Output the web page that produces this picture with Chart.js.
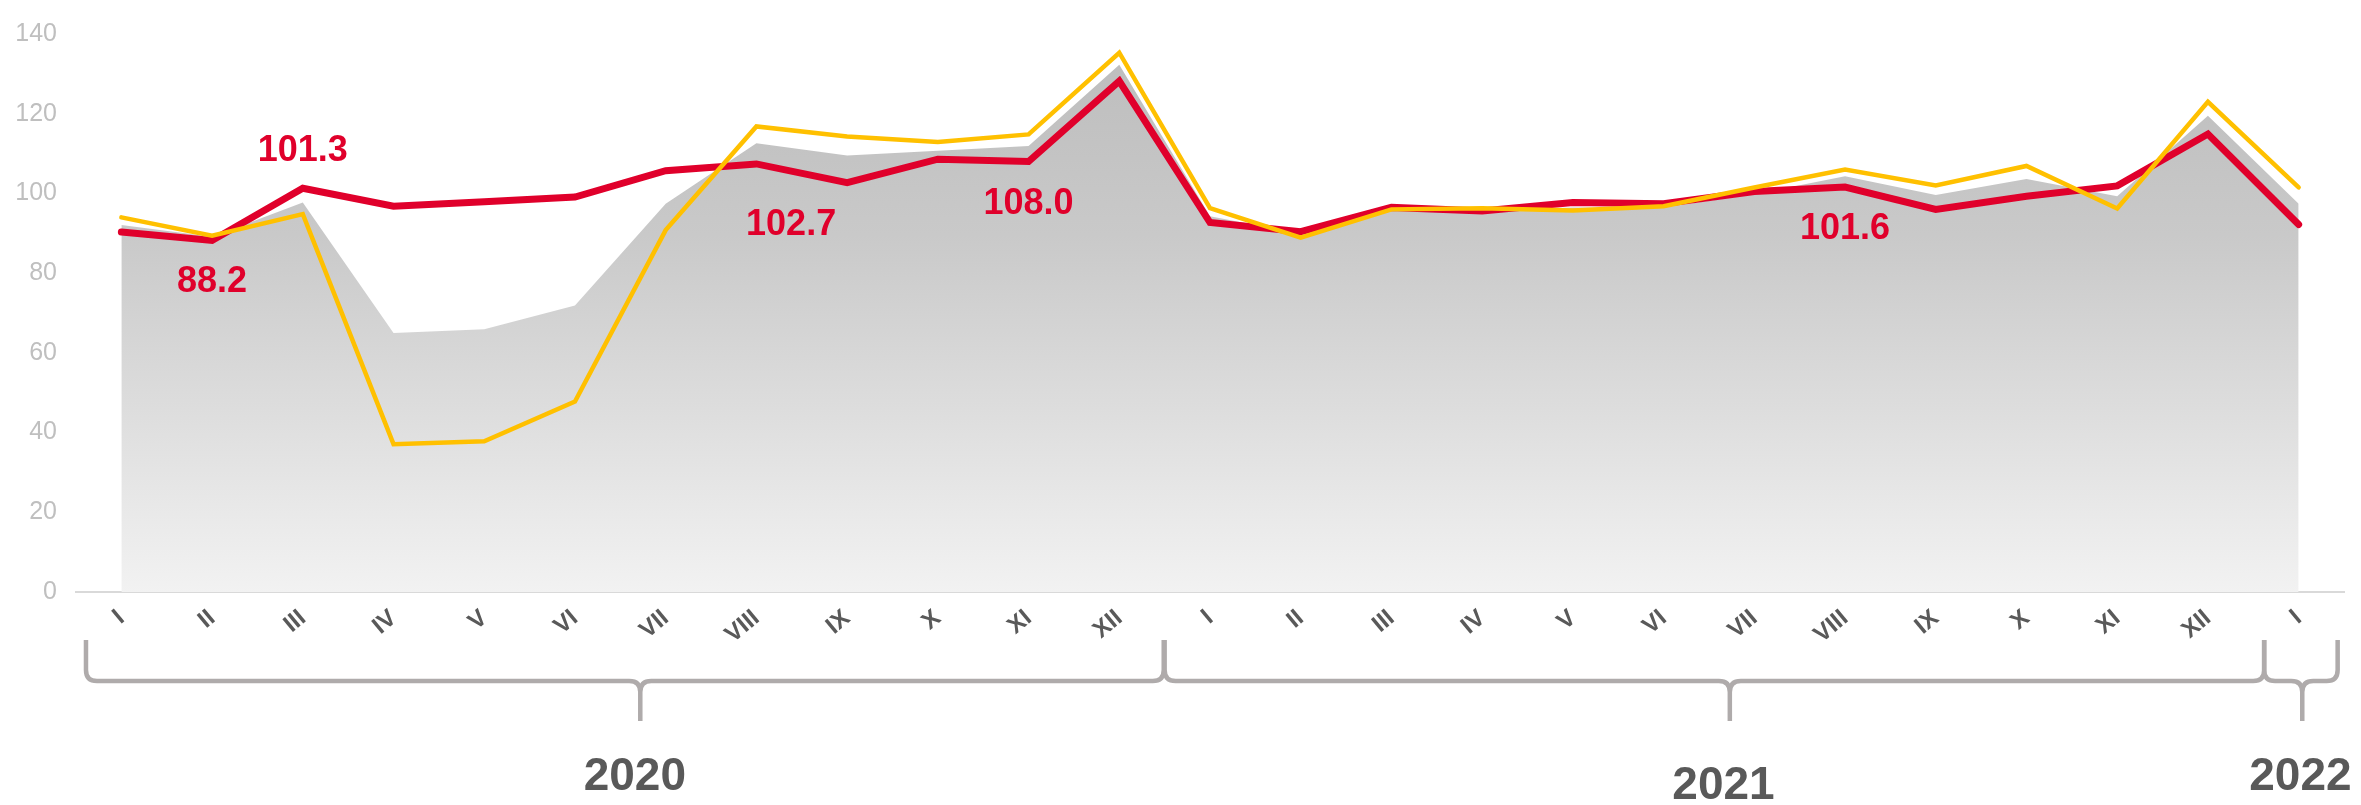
<!DOCTYPE html>
<html><head><meta charset="utf-8">
<style>html,body{margin:0;padding:0;background:#fff;overflow:hidden}#wrap{width:2361px;height:805px;position:relative}</style>
<script src="https://cdn.jsdelivr.net/npm/chart.js@4.4.1/dist/chart.umd.min.js"></script>
</head><body><div id="wrap"><canvas id="c" width="2361" height="805"></canvas></div>
<script>
const months = ['I','II','III','IV','V','VI','VII','VIII','IX','X','XI','XII',
                'I','II','III','IV','V','VI','VII','VIII','IX','X','XI','XII','I'];
const years = ['2020','2021','2022'];
const redSeries = [90.3, 88.2, 101.3, 96.8, 97.9, 99.1, 105.7, 107.4, 102.7, 108.6, 108.0, 128.2,
                   92.7, 90.4, 96.5, 95.6, 97.7, 97.4, 100.5, 101.6, 96.0, 99.3, 101.9, 114.9, 92.2];
const yellowSeries = [94.0, 89.4, 94.8, 37.1, 37.8, 47.8, 90.8, 116.8, 114.3, 112.9, 114.8, 135.3,
                      96.3, 88.9, 96.0, 96.3, 95.7, 96.8, 101.5, 106.0, 102.0, 106.9, 96.2, 123.0, 101.5];
const graySeries = [92.1, 89.1, 97.7, 65.0, 65.9, 71.9, 97.4, 112.6, 109.5, 110.7, 111.9, 132.3,
                    94.3, 89.9, 95.6, 95.8, 96.5, 96.5, 99.8, 104.3, 99.6, 103.6, 99.3, 119.5, 97.4];
const yTicks = [0, 20, 40, 60, 80, 100, 120, 140];
const labelledPoints = [1, 2, 8, 10, 19];

const FONT = "'Liberation Sans', Arial, sans-serif";

// label placement (style only)
const labelStyle = {
  1: {dx: 0, dy: 39}, 2: {dx: 0, dy: -40}, 8: {dx: -56, dy: 39}, 10: {dx: 0, dy: 39}, 19: {dx: 0, dy: 39}
};
// brace geometry in category-index units (style only)
const braceStyle = [
  {from: -0.39, to: 11.49, mid: 5.72, textX: 5.66, textDy: 182},
  {from: 11.50, to: 23.62, mid: 17.73, textX: 17.66, textDy: 191},
  {from: 23.62, to: 24.43, mid: 24.04, textX: 24.02, textDy: 182}
];

const valueLabels = {
  id: 'valueLabels',
  afterDatasetsDraw(chart) {
    const meta = chart.getDatasetMeta(1);
    const c = chart.ctx;
    c.save();
    c.font = "bold 36px " + FONT;
    c.fillStyle = '#e0002b';
    c.textAlign = 'center';
    c.textBaseline = 'alphabetic';
    labelledPoints.forEach(i => {
      const p = meta.data[i];
      const s = labelStyle[i] || {dx: 0, dy: 39};
      c.fillText(redSeries[i].toFixed(1), p.x + s.dx, p.y + s.dy + 13);
    });
    c.restore();
  }
};

const braces = {
  id: 'braces',
  afterDraw(chart) {
    const xs = chart.scales.x;
    const base = chart.chartArea.bottom;
    const c = chart.ctx;
    const px = v => xs.getPixelForValue(v);
    const yTop = base + 48, yH = base + 89, yBot = base + 129, r = 11;
    c.save();
    c.strokeStyle = '#afabab';
    c.lineWidth = 4.5;
    c.lineJoin = 'round';
    braceStyle.forEach((b, k) => {
      const x1 = px(b.from), x2 = px(b.to), xm = px(b.mid);
      const rr = Math.min(r, (xm - x1) / 2, (x2 - xm) / 2);
      c.beginPath();
      c.moveTo(x1, yTop);
      c.lineTo(x1, yH - rr);
      c.quadraticCurveTo(x1, yH, x1 + rr, yH);
      c.lineTo(xm - rr, yH);
      c.quadraticCurveTo(xm, yH, xm, yH + rr);
      c.lineTo(xm, yBot);
      c.moveTo(xm, yH + rr);
      c.quadraticCurveTo(xm, yH, xm + rr, yH);
      c.lineTo(x2 - rr, yH);
      c.quadraticCurveTo(x2, yH, x2, yH - rr);
      c.lineTo(x2, yTop);
      c.stroke();
      c.font = "bold 46px " + FONT;
      c.fillStyle = '#595959';
      c.textAlign = 'center';
      c.textBaseline = 'alphabetic';
      c.fillText(years[k], px(b.textX), base + b.textDy + 16);
    });
    c.restore();
  }
};

const grayFill = (ctx) => {
  const chart = ctx.chart;
  const a = chart.chartArea;
  if (!a) return '#c8c8c8';
  const g = chart.ctx.createLinearGradient(0, a.top, 0, a.bottom);
  g.addColorStop(0, '#bcbcbc');
  g.addColorStop(0.36, '#c9c9c9');
  g.addColorStop(1, '#f2f2f2');
  return g;
};

new Chart(document.getElementById('c'), {
  type: 'line',
  data: {
    labels: months,
    datasets: [
      {label: 'area', data: graySeries, fill: 'origin', backgroundColor: grayFill, borderWidth: 0,
       pointRadius: 0, tension: 0, order: 2},
      {label: 'red', data: redSeries, fill: false, borderColor: '#e0002b', borderWidth: 7,
       borderCapStyle: 'round', pointRadius: 0, tension: 0, order: 1},
      {label: 'yellow', data: yellowSeries, fill: false, borderColor: '#ffc000', borderWidth: 4.5,
       borderCapStyle: 'round', pointRadius: 0, tension: 0, order: 0}
    ]
  },
  options: {
    responsive: false,
    devicePixelRatio: 1,
    animation: false,
    layout: {padding: {top: 26, right: 17, left: 0, bottom: 0}},
    plugins: {legend: {display: false}, tooltip: {enabled: false}},
    scales: {
      x: {
        offset: true,
        grid: {display: false, drawTicks: false},
        border: {display: true, color: '#d9d9d9', width: 2},
        ticks: {autoSkip: false, minRotation: 40, maxRotation: 40, padding: 12,
                color: '#595959', font: {family: FONT, size: 24, weight: 'bold'}},
        afterFit(s) { s.height = 213; }
      },
      y: {
        min: 0, max: 140,
        grid: {display: false, drawTicks: false},
        border: {display: false},
        afterBuildTicks(s) { s.ticks = yTicks.map(v => ({value: v})); },
        ticks: {padding: 19, color: '#bfbfbf', font: {family: FONT, size: 25}},
        afterFit(s) { s.width = 76; }
      }
    }
  },
  plugins: [valueLabels, braces]
});
</script></body></html>
